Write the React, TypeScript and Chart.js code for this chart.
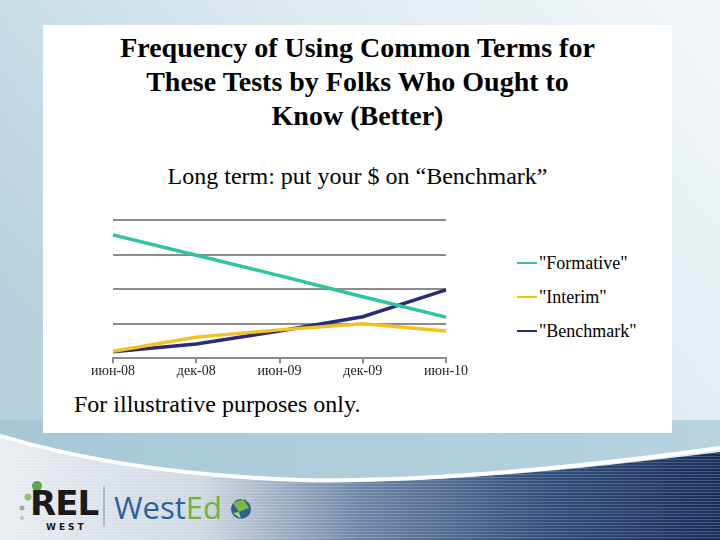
import React, { useEffect, useRef } from "react";
import { Chart, registerables } from "chart.js";

Chart.register(...registerables);

const categories = ["июн-08", "дек-08", "июн-09", "дек-09", "июн-10"];
const seriesNames = ['"Formative"', '"Interim"', '"Benchmark"'];
const formative = [3.57, 2.98, 2.39, 1.78, 1.19];
const interim = [0.2, 0.61, 0.82, 1.0, 0.79];
const benchmark = [0.19, 0.41, 0.79, 1.2, 1.98];
const seriesColors = ["#2ec3a1", "#f2c31e", "#2b2a78"];
const yMin = 0;
const yMax = 4;

const SERIF = '"Liberation Serif", "Times New Roman", serif';

function LineChart() {
  const ref = useRef<HTMLCanvasElement | null>(null);
  useEffect(() => {
    if (!ref.current) return;
    const values = [formative, interim, benchmark];
    const chart = new Chart(ref.current, {
      type: "line",
      data: {
        labels: categories,
        datasets: values.map((v, i) => ({
          label: seriesNames[i],
          data: v,
          borderColor: seriesColors[i],
          backgroundColor: seriesColors[i],
          borderWidth: 3.5,
          pointRadius: 0,
          tension: 0,
          fill: false,
        })),
      },
      options: {
        animation: false,
        responsive: false,
        maintainAspectRatio: false,
        layout: { padding: { left: 33, right: 34, top: 25, bottom: 5 } },
        plugins: {
          legend: { display: false },
          tooltip: { enabled: false },
          title: { display: false },
        },
        scales: {
          x: {
            offset: false,
            grid: {
              drawOnChartArea: false,
              drawTicks: true,
              tickLength: 5,
              color: "#8c8c8c",
              lineWidth: 2,
            },
            border: { display: true, color: "#8c8c8c", width: 2 },
            ticks: {
              color: "#222",
              padding: 0,
              maxRotation: 0,
              autoSkip: false,
              font: { family: SERIF, size: 14 },
            },
          },
          y: {
            min: yMin,
            max: yMax,
            grid: {
              drawTicks: false,
              color: "#8c8c8c",
              lineWidth: 2,
            },
            border: { display: false },
            ticks: { display: false, stepSize: 1 },
          },
        },
      },
    });
    return () => chart.destroy();
  }, []);
  return (
    <canvas
      ref={ref}
      width={400}
      height={190}
      style={{ position: "absolute", left: 80, top: 195, width: 400, height: 190 }}
    />
  );
}

function Background() {
  return (
    <svg
      width={720}
      height={540}
      style={{ position: "absolute", left: 0, top: 0 }}
      xmlns="http://www.w3.org/2000/svg"
    >
      <defs>
        <linearGradient id="topbg" x1="0" y1="0.6" x2="1" y2="0">
          <stop offset="0" stopColor="#b4d0dc" />
          <stop offset="0.55" stopColor="#dce9ef" />
          <stop offset="1" stopColor="#f4f7f9" />
        </linearGradient>
        <linearGradient id="band" x1="0" y1="0" x2="1" y2="0">
          <stop offset="0" stopColor="#a6c8d6" />
          <stop offset="1" stopColor="#b6d3de" />
        </linearGradient>
        <linearGradient id="bottom" x1="0" y1="0" x2="1" y2="0">
          <stop offset="0" stopColor="#e9edf1" />
          <stop offset="0.28" stopColor="#cfd8e1" />
          <stop offset="0.5" stopColor="#6d86a7" />
          <stop offset="0.75" stopColor="#34507c" />
          <stop offset="1" stopColor="#1a2f5c" />
        </linearGradient>
        <pattern id="stripes" width="4" height="3" patternUnits="userSpaceOnUse">
          <rect x="0" y="0" width="4" height="1" fill="rgba(255,255,255,0.18)" />
        </pattern>
      </defs>
      <rect x={0} y={0} width={720} height={540} fill="url(#topbg)" />
      <path d="M0 420 L720 420 L720 450 C560 470 420 482 300 480 C180 476 80 460 0 436 Z" fill="url(#band)" />
      <path d="M0 438 C80 462 180 478 300 482 C420 484 560 472 720 452 L720 540 L0 540 Z" fill="url(#bottom)" />
      <path d="M0 438 C80 462 180 478 300 482 C420 484 560 472 720 452 L720 540 L0 540 Z" fill="url(#stripes)" />
      <path d="M0 436 C80 460 180 476 300 480 C420 482 560 470 720 448" stroke="#ffffff" strokeWidth={4} fill="none" />
      {/* REL dots */}
      <circle cx={37} cy={486} r={5} fill="#5aa84a" />
      <circle cx={28} cy={497} r={3.5} fill="#8cc07a" />
      <circle cx={22} cy={508} r={2.5} fill="#9fb0a0" />
      <circle cx={22} cy={518} r={2} fill="#b9c4bc" />
      <rect x={103} y={486} width={2} height={40} fill="#b0b8c0" />
      {/* globe */}
      <circle cx={241} cy={509} r={10} fill="#2d5f8f" />
      <path d="M233 503 L243 499 L249 508 L239 512 Z" fill="#7ab648" />
      <path d="M233 513 L239 512 L241 519 Z" fill="#a9d47c" />
    </svg>
  );
}

export default function App() {
  const legendTop = [263, 297, 331];
  return (
    <div
      style={{
        position: "fixed",
        left: 0,
        top: 0,
        width: 720,
        height: 540,
        overflow: "hidden",
        fontFamily: SERIF,
      }}
    >
      <Background />
      <div
        style={{
          position: "absolute",
          left: 43,
          top: 25,
          width: 629,
          height: 408,
          background: "#ffffff",
        }}
      />
      <div
        style={{
          position: "absolute",
          left: 43,
          top: 31,
          width: 629,
          textAlign: "center",
          fontWeight: "bold",
          fontSize: 28,
          lineHeight: "34px",
          color: "#000",
        }}
      >
        <div>Frequency of Using Common Terms for</div>
        <div>These Tests by Folks Who Ought to</div>
        <div>Know (Better)</div>
      </div>
      <div
        style={{
          position: "absolute",
          left: 43,
          top: 161,
          width: 629,
          textAlign: "center",
          fontSize: 24,
          lineHeight: "30px",
          color: "#000",
        }}
      >
        Long term: put your $ on “Benchmark”
      </div>
      <LineChart />
      {seriesNames.map((name, i) => (
        <div
          key={name}
          style={{
            position: "absolute",
            left: 517,
            top: legendTop[i] - 11,
            height: 22,
            display: "flex",
            alignItems: "center",
            fontSize: 18,
            color: "#000",
            whiteSpace: "nowrap",
          }}
        >
          <span
            style={{
              display: "inline-block",
              width: 20,
              height: 2,
              background: seriesColors[i],
              marginRight: 2,
            }}
          />
          {name}
        </div>
      ))}
      <div
        style={{
          position: "absolute",
          left: 74,
          top: 389,
          fontSize: 24,
          lineHeight: "30px",
          color: "#000",
          whiteSpace: "nowrap",
        }}
      >
        For illustrative purposes only.
      </div>
      <div
        style={{
          position: "absolute",
          left: 30,
          top: 486,
          fontFamily: '"DejaVu Sans", sans-serif',
          fontWeight: 900,
          fontSize: 34,
          lineHeight: "34px",
          letterSpacing: -1,
          color: "#1a1a1a",
        }}
      >
        REL
      </div>
      <div
        style={{
          position: "absolute",
          left: 46,
          top: 522,
          fontFamily: '"DejaVu Sans", sans-serif',
          fontWeight: "bold",
          fontSize: 9,
          lineHeight: "11px",
          letterSpacing: 3,
          color: "#1a1a1a",
        }}
      >
        WEST
      </div>
      <div
        style={{
          position: "absolute",
          left: 114,
          top: 488,
          fontFamily: '"Open Sans", sans-serif',
          fontSize: 31,
          lineHeight: "38px",
          color: "#2a62a0",
          whiteSpace: "nowrap",
        }}
      >
        West<span style={{ color: "#6fb23e" }}>Ed</span>
      </div>
    </div>
  );
}
